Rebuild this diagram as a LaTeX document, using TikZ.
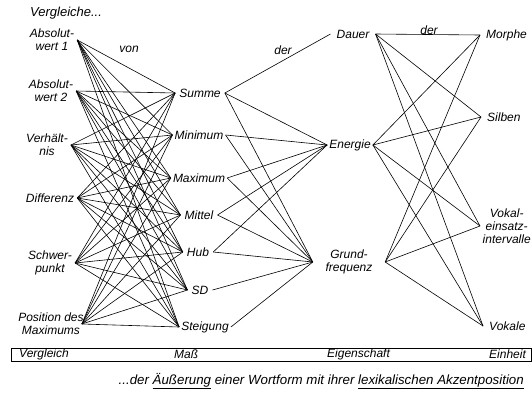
\documentclass[tikz,border=0pt]{standalone}
\usepackage{fontspec}
\setmainfont{Liberation Sans}
\usepackage{tikz}
\usetikzlibrary{calc}
\tikzset{vgl/.style={align=center,inner xsep=3pt,inner ysep=1pt},
  mass/.style={inner xsep=4pt,inner ysep=1pt},
  eig/.style={align=center,inner xsep=3pt,inner ysep=1pt},
  einh/.style={anchor=west,align=center,inner xsep=6pt,inner ysep=1pt},
  kante/.style={line width=0.6pt}}

\begin{document}
\begin{tikzpicture}[x=1pt,y=-1pt,font=\itshape\fontsize{12}{13}\selectfont]
          \useasboundingbox (0,0) rectangle (532,394);
          \node[anchor=west,inner sep=0pt,font=\itshape\fontsize{13}{14}\selectfont] (titel) at (30,13) {Vergleiche...};

          % Vergleich
          \node[vgl] (vabs1) at (52,40) {Absolut-\\wert 1};
          \node[vgl] (vabs2) at (51,91) {Absolut-\\wert 2};
          \node[vgl] (vverh) at (47,145) {Verhält-\\nis};
          \node[vgl] (vdiff) at (50,198) {Differenz};
          \node[vgl] (vschw) at (50,263) {Schwer-\\punkt};
          \node[vgl,inner xsep=-2pt] (vpos) at (51,324) {Position des\\Maximums};

          % Mass
          \node[mass] (msum) at (200,93) {Summe};
          \node[mass,inner xsep=2pt] (mmin) at (199,135) {Minimum};
          \node[mass,inner xsep=2pt] (mmax) at (199,178) {Maximum};
          \node[mass] (mmit) at (199,215) {Mittel};
          \node[mass] (mhub) at (198,252) {Hub};
          \node[mass] (msd) at (200,290) {SD};
          \node[mass,inner xsep=2pt] (mste) at (205,327) {Steigung};

          % Eigenschaft
          \node[eig,inner xsep=6pt] (edau) at (353,34) {Dauer};
          \node[eig,inner xsep=2pt] (eene) at (350,145) {Energie};
          \node[eig,minimum width=72pt] (egru) at (349,262) {Grund-\\frequenz};

          % Einheit
          \node[einh] (umor) at (480,35) {Morphe};
          \node[einh] (usil) at (481,117) {Silben};
          \node[einh,inner xsep=2.5pt] (uvei) at (480,226) {Vokal-\\einsatz-\\intervalle};
          \node[einh] (uvok) at (483,326) {Vokale};

          \node (von) at (129,49) {von};
          \node (der1) at (283,50) {der};
          \node (der2) at (429,30) {der};

          \foreach \v in {vabs1,vabs2,vverh,vdiff,vschw,vpos}
            \foreach \m in {msum,mmin,mmax,mmit,mhub,msd,mste}
              \draw[kante] (\v.east) -- (\m.west);

          \draw[kante] (msum.east) -- (edau.west);
          \foreach \m in {msum,mmin,mmax,mmit,mhub}
            \draw[kante] (\m.east) -- (eene.west);
          \foreach \m in {msum,mmin,mmax,mmit,mhub,msd,mste}
            \draw[kante] (\m.east) -- (egru.west);

          \foreach \e in {edau,eene,egru}
            \foreach \u in {umor,usil,uvei,uvok}
              \draw[kante] (\e.east) -- (\u.west);

          % Leiste
          \draw[line width=0.8pt] (11,348) rectangle (531,361.5);
          \node[anchor=west,inner sep=0pt] (lvgl) at (19,354.5) {Vergleich};
          \node[anchor=west,inner sep=0pt] (lmass) at (174,354.5) {Maß};
          \node[anchor=west,inner sep=0pt] (leig) at (327,354.5) {Eigenschaft};
          \node[anchor=west,inner sep=0pt] (leinh) at (489,354.5) {Einheit};

          \node[anchor=east,inner sep=0pt,font=\itshape\fontsize{13.3}{15}\selectfont] (unten) at (524,381) {...der \underline{Äußerung} einer Wortform mit ihrer \underline{lexikalischen Akzentposition}};
        \end{tikzpicture}
\end{document}
